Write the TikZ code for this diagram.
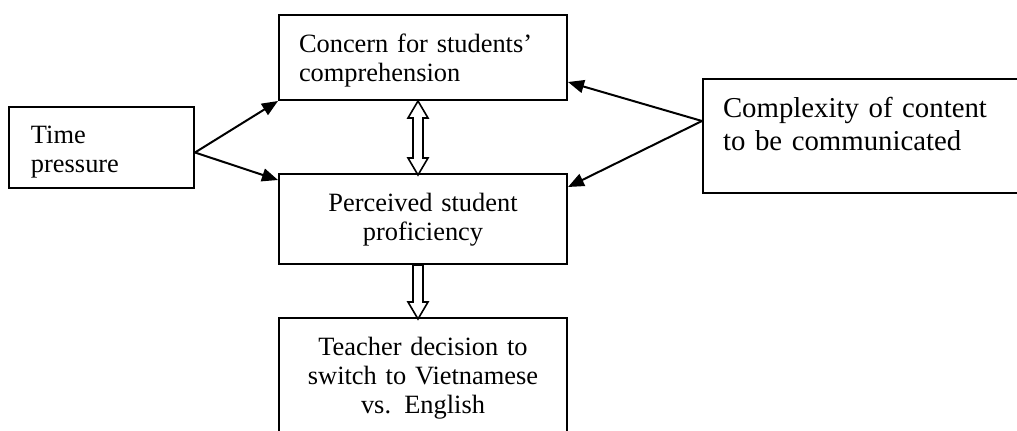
\documentclass[tikz,border=0pt]{standalone}
\usepackage{fontspec}
\setmainfont{Liberation Serif}
\usepackage{tikz}
\usetikzlibrary{arrows.meta}

\tikzset{
  box/.style={draw, line width=1pt, anchor=north west, inner ysep=0pt, font=\fontsize{13.2pt}{14.5pt}\selectfont},
  arr/.style={line width=1pt, -{Triangle[length=8pt,width=6.5pt]}},
  hollow/.style={draw, fill=white, line width=0.8pt, line join=miter}
}

\begin{document}
\begin{tikzpicture}[x=0.5pt, y=-0.5pt]
				\useasboundingbox (0,0) rectangle (1017,430);
				\node[box, align=left, inner xsep=11pt, text width=70.5pt, text height=18pt, text depth=22.5pt] (time) at (8,106) {Time\\pressure};
				\node[box, align=left, inner xsep=10pt, text width=124pt, text height=18.5pt, text depth=24pt] (concern) at (278,14) {Concern for students'\\comprehension};
				\node[box, align=center, inner xsep=0pt, text width=144pt, text height=18.5pt, text depth=26.5pt] (percv) at (278,173) {Perceived student\\proficiency};
				\node[box, align=center, inner xsep=0pt, text width=144pt, text height=18.5pt, text depth=39.5pt] (teacher) at (278,317) {Teacher decision to\\switch to Vietnamese\\vs. English};
				\node[box, align=left, inner xsep=10pt, text width=146.5pt, text height=19pt, text depth=38pt, font=\fontsize{14.4pt}{16.5pt}\selectfont] (cmplx) at (702,78) {Complexity of content\\to be communicated};
				% time pressure
				\draw[arr] ([yshift=-2.5pt]time.east) -- (concern.south west);
				\draw[arr] ([yshift=-2.5pt]time.east) -- ([yshift=-3.5pt]percv.north west);
				% complexity
				\draw[arr] ([yshift=7.5pt]cmplx.west) -- ([yshift=9.5pt]concern.south east);
				\draw[arr] ([yshift=7.5pt]cmplx.west) -- ([yshift=-7pt]percv.north east);
				% block arrows
				\draw[hollow] ([xshift=-2.5pt]concern.south) -- ++(5pt,-8.5pt) -- ++(-2.5pt,0) -- ++(0,-20pt) -- ++(2.5pt,0) -- ++(-5pt,-8.5pt) -- ++(-5pt,8.5pt) -- ++(2.5pt,0) -- ++(0,20pt) -- ++(-2.5pt,0) -- cycle;
				\draw[hollow] ([xshift=-5pt]percv.south) -- ++(0,-18.5pt) -- ++(-2.5pt,0) -- ++(5pt,-8.5pt) -- ++(5pt,8.5pt) -- ++(-2.5pt,0) -- ++(0,18.5pt) -- cycle;
			\end{tikzpicture}
\end{document}
